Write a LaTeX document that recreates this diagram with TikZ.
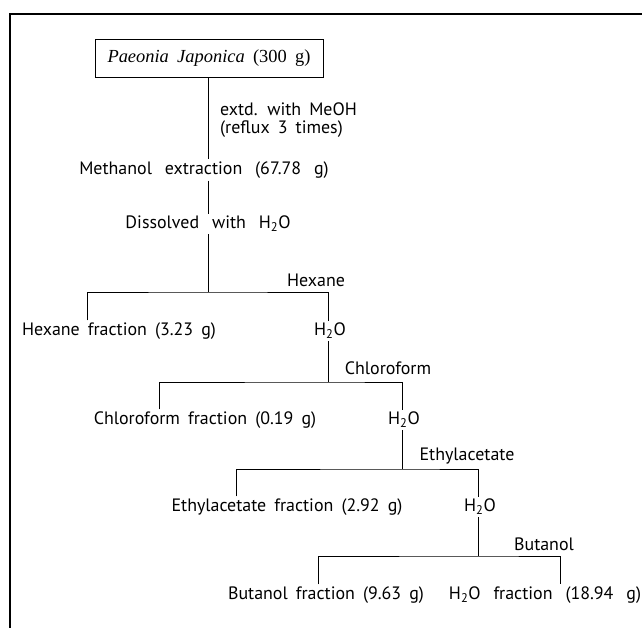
\documentclass[tikz,border=0pt]{standalone}
\usepackage{fontspec}
\setmainfont{Liberation Serif}
\newfontfamily\flowfont{PT Sans}
\usepackage{tikz}
\usetikzlibrary{positioning}
\newcommand\widespace{\spaceskip=0.45em\relax}
\newcommand\widerspace{\spaceskip=0.72em\relax}

\begin{document}
\begin{tikzpicture}[
            x=1bp, y=-1bp,
            font=\flowfont\fontsize{18}{20}\selectfont\widespace,
            stage/.style={inner sep=2bp, align=center},
            widestage/.style={stage, font=\flowfont\fontsize{18}{20}\selectfont\widerspace},
            solvent/.style={inner sep=1bp},
            start/.style={draw, line width=0.6bp, minimum width=228bp,
            minimum height=38bp, inner sep=0pt,
            font=\rmfamily\fontsize{18.5}{20}\selectfont\widespace},
            link/.style={line width=0.7bp},
            frame/.style={line width=1.1bp}
        ]
\useasboundingbox (0,0) rectangle (642,628);

% --- frame: top and left rule only ---
            \draw[frame] (10,628) -- (10,14) -- (642,14);

% --- extraction column ---
            \node[start]                    (plant) at (209,58)  {\textit{Paeonia Japonica} (300 g)};
            \node[widestage]                (meoh)  at (204,170) {Methanol extraction (67.78 g)};
            \node[widestage]                (diss)  at (208,224) {Dissolved with H\textsubscript{2}O};
            \node[stage, align=left, anchor=west, inner sep=0pt,
                  font=\flowfont\fontsize{18}{17.5}\selectfont\widespace]
                                            (extd)  at (220,120) {extd. with MeOH\\(reflux 3 times)};

% --- partition steps ---
            \node[stage]                    (hexfr) at (119,331) {Hexane fraction (3.23 g)};
            \node[stage]                    (w1)    at (330,331) {H\textsubscript{2}O};
            \node[stage]                    (chlfr) at (205,420) {Chloroform fraction (0.19 g)};
            \node[stage]                    (w2)    at (404,420) {H\textsubscript{2}O};
            \node[stage]                    (ethfr) at (287,507) {Ethylacetate fraction (2.92 g)};
            \node[stage]                    (w3)    at (480,507) {H\textsubscript{2}O};
            \node[stage]                    (butfr) at (326,595) {Butanol fraction (9.63 g)};
            \node[widestage]                (wfr)   at (545,595) {H\textsubscript{2}O fraction (18.94 g)};

% --- solvent labels ---
            \node[solvent]                  (hex)   at (316,280) {Hexane};
            \node[solvent]                  (chl)   at (388,368) {Chloroform};
            \node[solvent]                  (eth)   at (467,456) {Ethylacetate};
            \node[solvent]                  (but)   at (544,544) {Butanol};

% split points
            \coordinate (s1) at (208,292);
            \coordinate (s2) at (328,382);
            \coordinate (s3) at (402,469);
            \coordinate (s4) at (478,556);

% column
            \draw[link] (plant.south -| s1) -- (meoh.north -| s1);
            \draw[link] (meoh.south -| s1) -- (diss.north -| s1);
            \draw[link] (diss.south -| s1) -- (s1);

% brackets
            \draw[link] ([xshift=-32bp]hexfr.north) |- (s1) -| (w1.north -| s2);
            \draw[link] (w1.south -| s2) -- (s2);
            \draw[link] ([xshift=-46bp]chlfr.north) |- (s2) -| (w2.north -| s3);
            \draw[link] (w2.south -| s3) -- (s3);
            \draw[link] ([xshift=-51bp]ethfr.north) |- (s3) -| (w3.north -| s4);
            \draw[link] (w3.south -| s4) -- (s4);
            \draw[link] ([xshift=-8bp]butfr.north) |- (s4) -| ([xshift=15bp]wfr.north);
        \end{tikzpicture}
\end{document}
